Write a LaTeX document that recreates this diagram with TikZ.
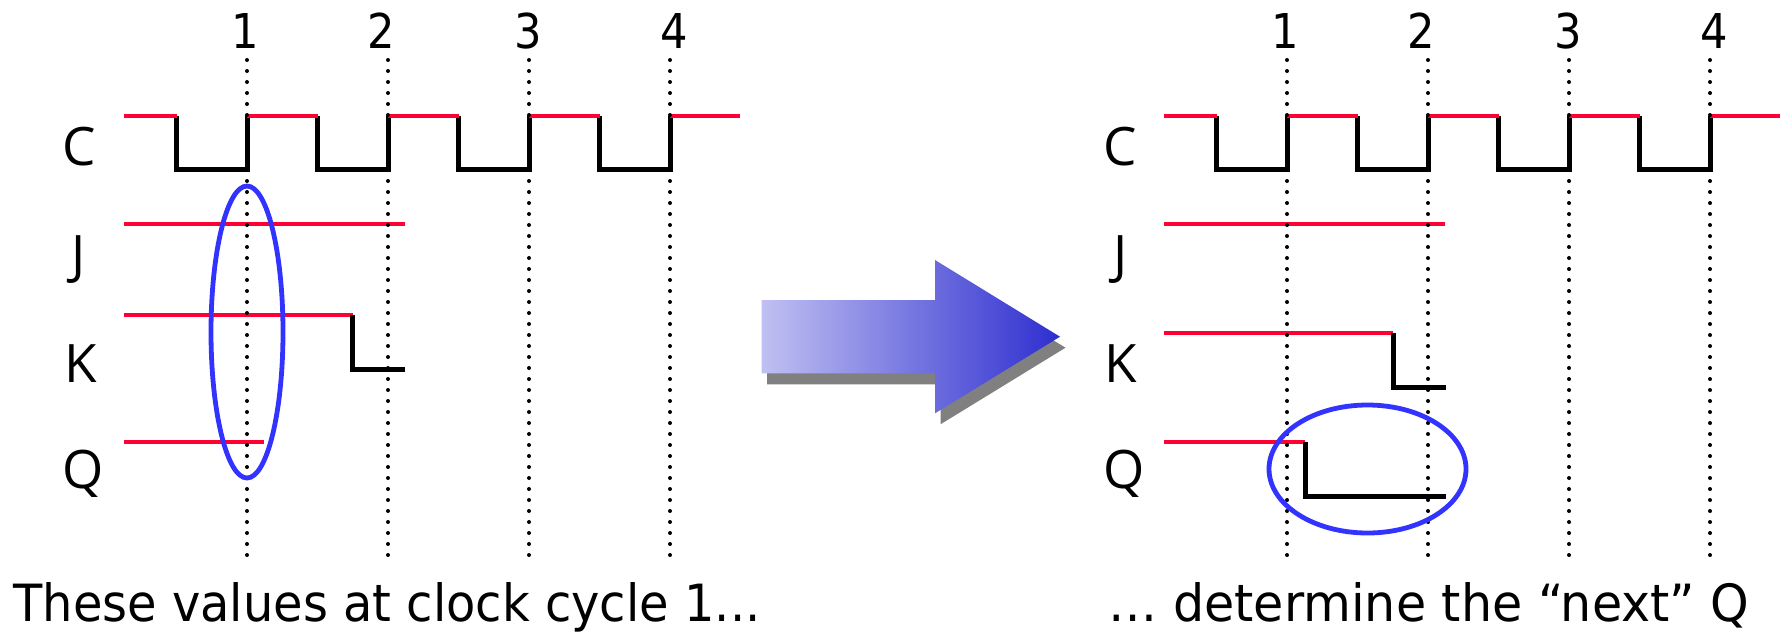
\documentclass[tikz,border=0pt]{standalone}
\usepackage{fontspec}
\newfontfamily\labfont{Open Sans}
\newfontfamily\txtfont{DejaVu Sans}
\definecolor{sigred}{RGB}{255,0,51}
\definecolor{ellblue}{RGB}{51,51,255}
\definecolor{arrL}{RGB}{192,192,242}
\definecolor{arrR}{RGB}{46,46,208}
\definecolor{shadowgray}{RGB}{128,128,128}
\tikzset{
  hi/.style={draw=sigred,line width=2.3pt},
  lo/.style={draw=black,line width=2.5pt},
  tick/.style={draw=black,line width=2pt,line cap=round,dash pattern=on 0pt off 5.5pt},
  ring/.style={draw=ellblue,line width=2.4pt},
  lab/.style={anchor=base,inner sep=0pt,font=\labfont\fontsize{26.5pt}{26.5pt}\selectfont},
  num/.style={anchor=base,inner sep=0pt,font=\txtfont\fontsize{24pt}{24pt}\selectfont},
  captext/.style={anchor=base west,inner sep=0pt}
}
\begin{document}
\begin{tikzpicture}[x=0.5pt,y=-0.5pt]
\useasboundingbox (0,0) rectangle (1783,634);
% ---------- both panels: clock, J ----------
\foreach \sx/\p in {0/L,1040/R}{
  \begin{scope}[shift={(\sx,0)}]
    \foreach \r in {247,388,529,670}{
      \draw[lo] (\r-70.5,116) -- (\r-70.5,169) -- (\r,169) -- (\r,116);
    }
    \draw[hi] (124,116) -- (176.5,116);
    \foreach \r in {247,388,529}{
      \draw[hi] (\r,116) -- (\r+70.5,116);
    }
    \draw[hi] (670,116) -- (740,116);
    \draw[hi] (124,224) -- (405,224);
  \end{scope}
}
% K and Q, left panel
\draw[hi] (124,315) -- (352.5,315);
\draw[lo] (352.5,315) -- (352.5,369) -- (405,369);
\draw[hi] (124,442) -- (264,442);
% K and Q, right panel
\draw[hi] (1164,333) -- (1393,333);
\draw[lo] (1393,333) -- (1393,387) -- (1446,387);
\draw[hi] (1164,442) -- (1305,442);
\draw[lo] (1305,442) -- (1305,496.5) -- (1446,496.5);
% dotted lines and numbers
\foreach \sx/\p in {0/L,1040/R}{
  \foreach \r/\d/\o in {247/1/-1.5,388/2/-7,529/3/-0.5,670/4/4.5}{
    \coordinate (top\p\d) at (\r+\sx,60);
    \coordinate (bot\p\d) at (\r+\sx,563);
    \draw[tick] (top\p\d) -- (bot\p\d);
    \node[num] (n\p\d) at (\r+\sx+\o,48) {\scalebox{0.9}[1]{\d}};
  }
}
% signal labels
\node[lab] (lC) at (79,165) {C};
\node[lab] (lJ) at (79,273) {J};
\node[lab] (lK) at (81,382) {K};
\node[lab] (lQ) at (83,488) {Q};
\node[lab] (rC) at (1120,165) {C};
\node[lab] (rJ) at (1121,273) {J};
\node[lab] (rK) at (1121,382) {K};
\node[lab] (rQ) at (1124,488) {Q};
% ellipses
\draw[ring] (247,332) ellipse [x radius=18pt, y radius=73pt];
\draw[ring] (1367.5,469) ellipse [x radius=49.25pt, y radius=32pt];
% arrow with shadow
\fill[shadowgray] (767.2,311) -- (940.5,311) -- (940.5,271) -- (1065.5,347.7) -- (940.5,424.3) -- (940.5,384.3) -- (767.2,384.3) -- cycle;
\shade[left color=arrL,right color=arrR] (761.7,300) -- (935,300) -- (935,260) -- (1060,336.7) -- (935,413.3) -- (935,373.3) -- (761.7,373.3) -- cycle;
% captions
\node[captext] (capL) at (13,621) {\resizebox{373.5pt}{19.5pt}{\txtfont These values at clock cycle 1...}};
\node[captext] (capR) at (1108,621) {\resizebox{320.5pt}{19.5pt}{\txtfont … determine the “next” Q}};
\end{tikzpicture}
\end{document}
